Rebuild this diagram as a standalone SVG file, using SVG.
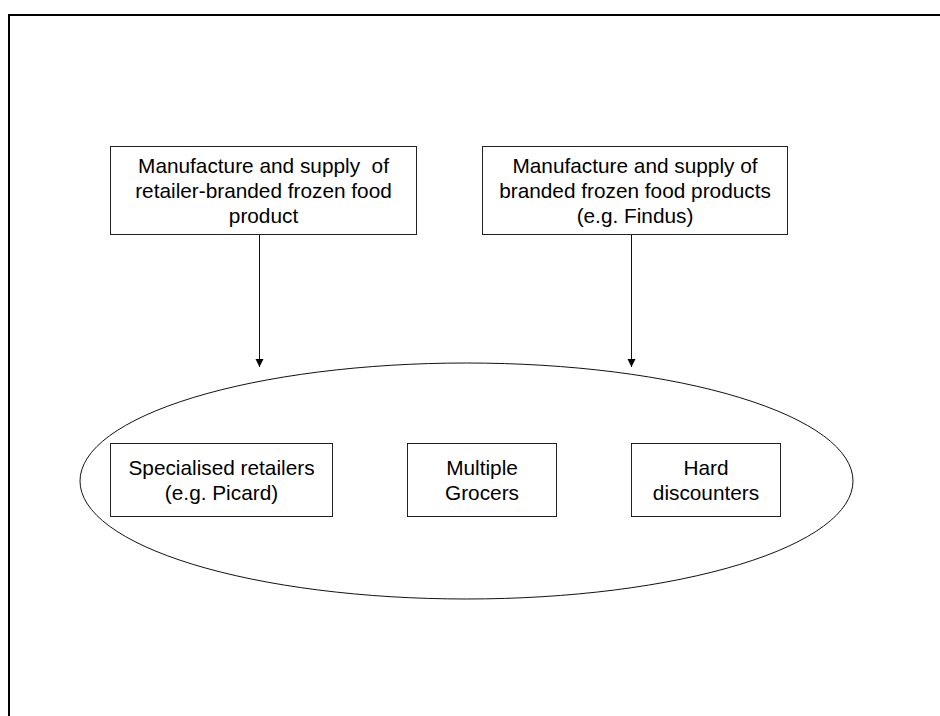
<svg xmlns="http://www.w3.org/2000/svg" width="940" height="716" viewBox="0 0 940 716">
<style>
.box{fill:#fff;stroke:#222;stroke-width:1}
.t{font-family:"Liberation Sans",Arial,sans-serif;font-size:20.8px;fill:#000;text-anchor:middle;white-space:pre}
.con{stroke:#111;stroke-width:1;fill:none}
</style>
<defs>
<marker id="ah" markerWidth="8" markerHeight="10" refX="8" refY="4" orient="auto" markerUnits="userSpaceOnUse" viewBox="0 0 8 10">
<path d="M0,0 L8,4 L0,8 Z" fill="#000"/>
</marker>
</defs>
<rect x="9" y="15" width="940" height="720" fill="none" stroke="#000" stroke-width="2"/>
<g id="market">
<ellipse cx="466.5" cy="481" rx="386.5" ry="118" fill="none" stroke="#111" stroke-width="1"/>
</g>
<g id="connectors">
<line class="con" x1="259.5" y1="235" x2="259.5" y2="367" marker-end="url(#ah)"/>
<line class="con" x1="631.5" y1="235" x2="631.5" y2="367" marker-end="url(#ah)"/>
</g>
<g id="n1">
<rect class="box" x="110.5" y="146.5" width="306" height="88"/>
<text class="t" x="263.5" xml:space="preserve"><tspan x="263.5" y="173">Manufacture and supply  of</tspan><tspan x="263.5" y="198">retailer-branded frozen food</tspan><tspan x="263.5" y="223">product</tspan></text>
</g>
<g id="n2">
<rect class="box" x="482.5" y="146.5" width="305" height="88"/>
<text class="t" x="635"><tspan x="635" y="173">Manufacture and supply of</tspan><tspan x="635" y="198">branded frozen food products</tspan><tspan x="635" y="223">(e.g. Findus)</tspan></text>
</g>
<g id="n3">
<rect class="box" x="110.5" y="443.5" width="222" height="73"/>
<text class="t"><tspan x="221.5" y="475">Specialised retailers</tspan><tspan x="221.5" y="500">(e.g. Picard)</tspan></text>
</g>
<g id="n4">
<rect class="box" x="407.5" y="443.5" width="149" height="73"/>
<text class="t"><tspan x="482" y="475">Multiple</tspan><tspan x="482" y="500">Grocers</tspan></text>
</g>
<g id="n5">
<rect class="box" x="631.5" y="443.5" width="149" height="73"/>
<text class="t"><tspan x="706" y="475">Hard</tspan><tspan x="706" y="500">discounters</tspan></text>
</g>
</svg>
